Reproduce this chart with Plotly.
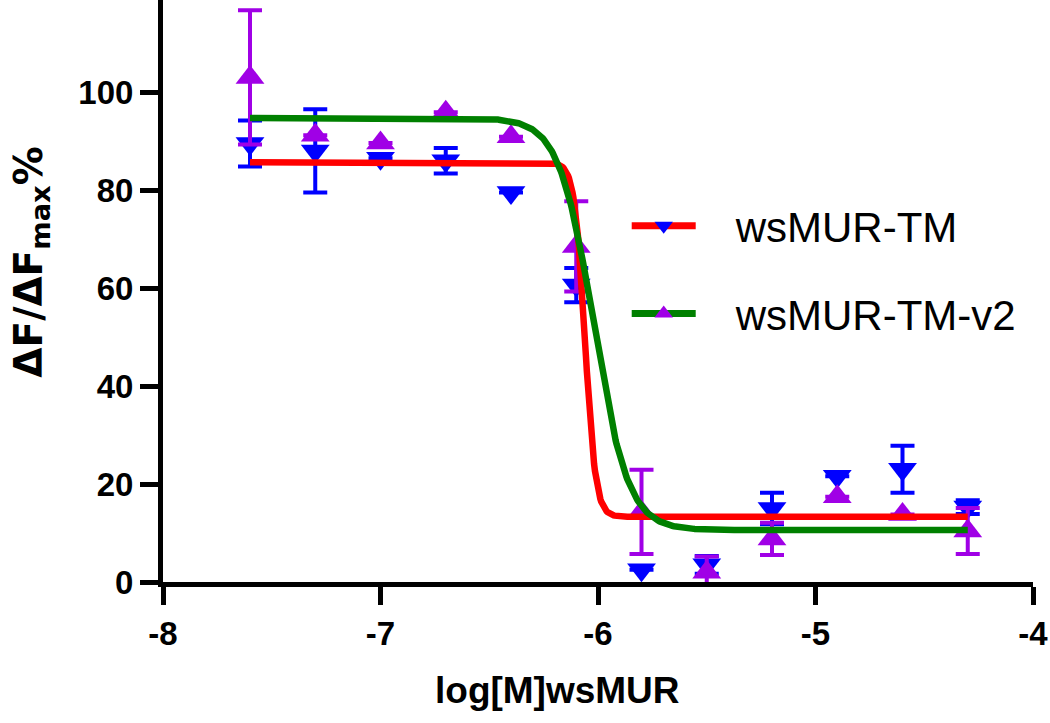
import numpy as np
import plotly.graph_objects as go

# log concentration of wsMUR (M)
log_conc = [-7.6, -7.3, -7.0, -6.7, -6.4, -6.1, -5.8, -5.5, -5.2, -4.9, -4.6, -4.3]

# wsMUR-TM: mean and error (dF/dFmax %)
tm_mean = [89.5, 88.0, 86.5, 86.0, 79.5, 60.6, 2.5, 3.5, 15.0, 21.6, 23.0, 15.3]
tm_err = [4.7, 8.5, 0.0, 2.6, 0.0, 3.5, 0.0, 1.8, 3.2, 0.0, 4.8, 1.4]

# wsMUR-TM-v2: mean and error
v2_mean = [103.0, 91.2, 89.6, 95.9, 90.9, 68.5, 14.3, 2.0, 8.8, 17.4, 13.8, 10.4]
v2_err = [13.7, 0.0, 0.0, 0.0, 0.0, 9.2, 8.6, 3.2, 3.3, 0.0, 0.0, 4.7]

# sigmoidal fit parameters (top, bottom, logIC50, hill slope)
tm_fit = dict(top=85.7, bottom=13.3, logic50=-6.06, hill=18.0)
v2_fit = dict(top=94.7, bottom=10.6, logic50=-6.02, hill=5.5)

y_ticks = [0, 20, 40, 60, 80, 100]
x_ticks = [-8, -7, -6, -5, -4]
x_ticktext = ["-8", "-7", "-6", "-5", "-4"]

BLUE = "#0000FF"
PURPLE = "#A000E6"
RED = "#FF0000"
GREEN = "#008000"


def sigmoid(x, p):
    return p["bottom"] + (p["top"] - p["bottom"]) / (1 + 10 ** ((x - p["logic50"]) * p["hill"]))


xs = np.linspace(min(log_conc), max(log_conc), 800)

fig = go.Figure()

# data points with error bars
fig.add_trace(go.Scatter(
    x=log_conc, y=tm_mean, mode="markers", showlegend=False, cliponaxis=False,
    marker=dict(symbol="triangle-down", size=25, color=BLUE),
    error_y=dict(type="data", array=tm_err, color=BLUE, thickness=4, width=12),
))
fig.add_trace(go.Scatter(
    x=log_conc, y=v2_mean, mode="markers", showlegend=False, cliponaxis=False,
    marker=dict(symbol="triangle-up", size=25, color=PURPLE),
    error_y=dict(type="data", array=v2_err, color=PURPLE, thickness=4, width=12),
))

# fitted curves
fig.add_trace(go.Scatter(x=xs, y=sigmoid(xs, tm_fit), mode="lines", showlegend=False,
                         cliponaxis=False, line=dict(color=RED, width=6.5)))
fig.add_trace(go.Scatter(x=xs, y=sigmoid(xs, v2_fit), mode="lines", showlegend=False,
                         cliponaxis=False, line=dict(color=GREEN, width=6.5)))

# legend entries (line colour of fit + marker of data)
fig.add_trace(go.Scatter(x=[None], y=[None], mode="lines+markers",
                         name="\u00a0\u00a0\u00a0wsMUR-TM", legendgroup="a",
                         line=dict(color=RED, width=7),
                         marker=dict(symbol="triangle-down", size=25, color=BLUE)))
fig.add_trace(go.Scatter(x=[None], y=[None], mode="lines+markers",
                         name="\u00a0\u00a0\u00a0wsMUR-TM-v2", legendgroup="b",
                         line=dict(color=GREEN, width=7),
                         marker=dict(symbol="triangle-up", size=25, color=PURPLE)))

tick_font = dict(family="Liberation Sans, Arial, sans-serif", size=33, color="black", weight="bold")

fig.update_xaxes(range=[-8, -4], tickvals=x_ticks, ticktext=x_ticktext, ticks="outside",
                 ticklen=18, tickwidth=5, tickcolor="black", showline=True, linewidth=5,
                 linecolor="black", showgrid=False, zeroline=False, tickfont=tick_font,
                 ticklabeloverflow="allow")
fig.update_yaxes(range=[0, 118.8], tickvals=y_ticks, ticks="outside", ticklen=18, tickwidth=5,
                 tickcolor="black", showline=True, linewidth=5, linecolor="black",
                 showgrid=False, zeroline=False, tickfont=tick_font)

fig.update_layout(
    width=1050, height=723,
    margin=dict(l=163, r=17, t=0, b=141),
    plot_bgcolor="white", paper_bgcolor="white",
    legend=dict(x=0.533, y=0.67, xanchor="left", yanchor="top", tracegroupgap=30,
                itemwidth=64, bgcolor="rgba(0,0,0,0)",
                font=dict(family="Liberation Sans, Arial, sans-serif", size=42, color="black")),
    annotations=[
        dict(text="log[M]wsMUR", x=0.453, y=-0.186, xref="paper", yref="paper",
             showarrow=False, xanchor="center", yanchor="middle",
             font=dict(family="Liberation Sans, Arial", size=37,
                       color="black", weight="bold")),
        dict(text="ΔF/ΔF<sub>max</sub>%", x=-0.152, y=0.55, xref="paper", yref="paper",
             showarrow=False, textangle=-90, xanchor="center", yanchor="middle",
             font=dict(family="DejaVu Sans, Liberation Sans", size=39,
                       color="black", weight="bold")),
    ],
)

fig.write_html("out.html", config={"displayModeBar": False},
               post_script="document.body.style.margin='0';")
